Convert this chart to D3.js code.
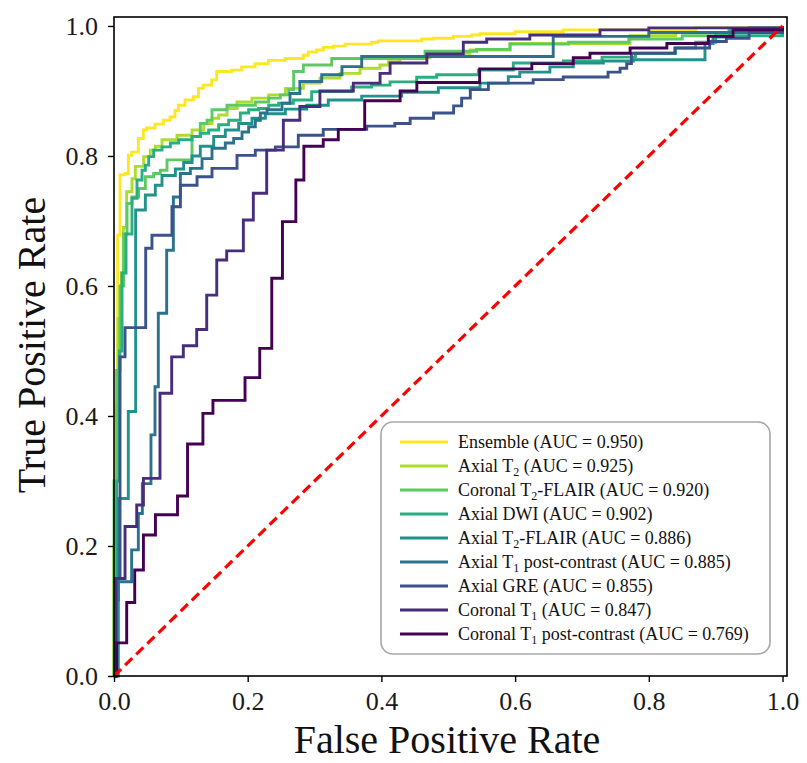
<!DOCTYPE html>
<html>
<head>
<meta charset="utf-8">
<script src="https://cdn.jsdelivr.net/npm/d3@7"></script>
<style>
  body { margin: 0; background: #fff; }
  svg { display: block; font-family: "Liberation Serif", "Times New Roman", serif; }
</style>
</head>
<body>
<svg id="chart"></svg>
<script>
// ROC points [fpr, tpr] (top of each vertical step)
var ensemble = [[0,0],[0,0.2],[0.003,0.47],[0.0055,0.678],[0.009,0.771],[0.0165,0.773],[0.0215,0.801],[0.0264,0.806],[0.0364,0.827],[0.0439,0.840],[0.0489,0.843],[0.0613,0.849],[0.0738,0.855],[0.0838,0.860],[0.0912,0.870],[0.0962,0.878],[0.1062,0.886],[0.1187,0.891],[0.1262,0.904],[0.1336,0.909],[0.1461,0.917],[0.1536,0.930],[0.1760,0.932],[0.1910,0.937],[0.2109,0.942],[0.2309,0.947],[0.2558,0.950],[0.2832,0.955],[0.2907,0.960],[0.3032,0.963],[0.3132,0.967],[0.3282,0.969],[0.3457,0.972],[0.3854,0.975],[0.3954,0.977],[0.4602,0.980],[0.4777,0.981],[0.5076,0.984],[0.5350,0.986],[0.5475,0.988],[0.6,0.991],[0.6722,0.994],[0.87,0.997],[1,1]];

var axialT2 = [[0,0],[0,0.2],[0.003,0.42],[0.006,0.55],[0.011,0.62],[0.0139,0.69],[0.0189,0.745],[0.0269,0.765],[0.0319,0.784],[0.0444,0.799],[0.0543,0.809],[0.0618,0.815],[0.0718,0.825],[0.0942,0.832],[0.1167,0.840],[0.1342,0.850],[0.1466,0.858],[0.1566,0.863],[0.1690,0.873],[0.1840,0.883],[0.2064,0.889],[0.2314,0.894],[0.2563,0.904],[0.2832,0.912],[0.3081,0.920],[0.3381,0.927],[0.3680,0.935],[0.3979,0.940],[0.4104,0.945],[0.4278,0.951],[0.4727,0.958],[0.5326,0.963],[0.5924,0.973],[0.772,0.985],[0.84,0.99],[0.92,0.996],[1,1]];

var coronalT2Flair = [[0,0],[0,0.3],[0.004,0.47],[0.009,0.6],[0.0145,0.68],[0.0195,0.727],[0.0269,0.737],[0.0369,0.750],[0.0469,0.768],[0.0593,0.773],[0.0693,0.778],[0.0793,0.794],[0.1167,0.830],[0.1291,0.850],[0.1391,0.855],[0.1466,0.871],[0.1690,0.878],[0.2114,0.883],[0.2314,0.889],[0.2488,0.894],[0.2613,0.902],[0.2687,0.930],[0.2832,0.940],[0.3257,0.950],[0.4653,0.961],[0.5425,0.964],[0.5924,0.972],[0.68,0.975],[0.77,0.98],[0.85,0.985],[0.92,0.993],[1,1]];

var axialDwi = [[0,0],[0.002,0.12],[0.004,0.3],[0.008,0.5],[0.012,0.62],[0.018,0.68],[0.0269,0.735],[0.0344,0.763],[0.0419,0.778],[0.0469,0.786],[0.0519,0.799],[0.0593,0.809],[0.0718,0.814],[0.0843,0.820],[0.0967,0.825],[0.1167,0.830],[0.1291,0.835],[0.1416,0.840],[0.1566,0.848],[0.1715,0.855],[0.1890,0.866],[0.2014,0.871],[0.2164,0.873],[0.2314,0.878],[0.2463,0.881],[0.2683,0.886],[0.2957,0.899],[0.3555,0.906],[0.3854,0.909],[0.4129,0.914],[0.4528,0.921],[0.4827,0.925],[0.5450,0.932],[0.5973,0.943],[0.6721,0.946],[0.73,0.952],[0.78,0.958],[0.84,0.966],[0.87,0.975],[0.9,0.985],[1,1]];

var axialT2Flair = [[0,0],[0.0065,0.273],[0.0214,0.407],[0.0324,0.717],[0.0469,0.74],[0.0618,0.755],[0.0718,0.77],[0.0918,0.78],[0.1042,0.79],[0.1167,0.80],[0.1291,0.815],[0.1491,0.83],[0.1665,0.84],[0.1865,0.85],[0.2064,0.858],[0.2264,0.865],[0.2563,0.872],[0.2883,0.878],[0.3205,0.886],[0.3705,0.892],[0.4303,0.898],[0.4852,0.905],[0.5475,0.912],[0.5898,0.922],[0.607,0.929],[0.652,0.937],[0.687,0.943],[0.732,0.946],[0.777,0.948],[0.884,0.973],[0.896,0.983],[0.921,0.991],[1,1]];

var axialT1Post = [[0,0],[0.003,0.117],[0.0065,0.145],[0.0264,0.194],[0.0364,0.250],[0.0424,0.296],[0.0553,0.371],[0.0613,0.445],[0.0663,0.558],[0.0788,0.655],[0.0888,0.737],[0.0993,0.773],[0.1142,0.781],[0.1317,0.796],[0.1466,0.812],[0.1665,0.820],[0.1790,0.827],[0.1915,0.837],[0.2014,0.845],[0.2114,0.855],[0.2189,0.866],[0.2289,0.871],[0.2513,0.881],[0.2633,0.896],[0.278,0.9145],[0.3107,0.925],[0.341,0.9375],[0.3705,0.953],[0.657,0.984],[0.80,0.99],[0.95,0.997],[1,1]];

var axialGre = [[0,0],[0.003,0.15],[0.009,0.491],[0.0165,0.536],[0.0474,0.658],[0.0568,0.678],[0.0867,0.722],[0.0993,0.755],[0.1242,0.768],[0.1466,0.781],[0.1840,0.801],[0.2114,0.809],[0.2413,0.814],[0.2757,0.832],[0.313,0.841],[0.378,0.846],[0.420,0.850],[0.443,0.858],[0.478,0.866],[0.508,0.877],[0.520,0.889],[0.533,0.902],[0.560,0.912],[0.627,0.9175],[0.672,0.9215],[0.739,0.929],[0.757,0.935],[0.767,0.942],[0.774,0.958],[0.839,0.966],[0.891,0.976],[0.916,0.981],[0.95,0.99],[1,1]];

var coronalT1 = [[0,0],[0.0025,0.150],[0.0165,0.230],[0.034,0.263],[0.044,0.304],[0.0688,0.435],[0.0863,0.491],[0.1037,0.508],[0.1237,0.533],[0.1387,0.586],[0.1537,0.640],[0.1686,0.654],[0.1935,0.7015],[0.2084,0.7426],[0.2284,0.809],[0.2533,0.855],[0.278,0.876],[0.308,0.900],[0.358,0.912],[0.398,0.927],[0.413,0.943],[0.468,0.957],[0.5225,0.975],[0.5575,0.980],[0.622,0.986],[0.727,0.994],[0.80,0.997],[1,1]];

var coronalT1Post = [[0,0],[0.004,0.051],[0.019,0.113],[0.031,0.163],[0.044,0.217],[0.062,0.248],[0.095,0.277],[0.110,0.357],[0.133,0.404],[0.148,0.424],[0.196,0.459],[0.218,0.504],[0.236,0.612],[0.252,0.699],[0.272,0.763],[0.284,0.815],[0.313,0.825],[0.3355,0.841],[0.375,0.885],[0.428,0.900],[0.453,0.913],[0.547,0.934],[0.625,0.942],[0.687,0.951],[0.712,0.958],[0.772,0.966],[0.827,0.973],[0.889,0.984],[0.926,0.994],[1,1]];

// "_2" marks a subscript
var seriesNames = ["Ensemble", "Axial T_2", "Coronal T_2-FLAIR", "Axial DWI", "Axial T_2-FLAIR",
  "Axial T_1 post-contrast", "Axial GRE", "Coronal T_1", "Coronal T_1 post-contrast"];
var aucValues = [0.950, 0.925, 0.920, 0.902, 0.886, 0.885, 0.855, 0.847, 0.769];
var series = [ensemble, axialT2, coronalT2Flair, axialDwi, axialT2Flair, axialT1Post, axialGre, coronalT1, coronalT1Post];

var xTicks = [0, 0.2, 0.4, 0.6, 0.8, 1.0];
var yTicks = [0, 0.2, 0.4, 0.6, 0.8, 1.0];
var chance = [[0, 0], [1, 1]];

var config = {
  w: 807,
  h: 763,
  left: 114,
  right: 787,
  top: 17,
  bottom: 676
};

var svg = d3.select("#chart")
  .attr("width", config.w)
  .attr("height", config.h);

var x = d3.scaleLinear().domain([0, 1.0067]).range([config.left, config.right]);
var y = d3.scaleLinear().domain([0, 1.0138]).range([config.bottom, config.top]);

// viridis, yellow first
var color = function(i) { return d3.interpolateViridis(1 - i / (series.length - 1)); };

// ROC curves are staircases: go right, then up
var step = d3.line()
  .curve(d3.curveStepAfter)
  .x(function(d) { return x(d[0]); })
  .y(function(d) { return y(d[1]); });

var plot = svg.append("g").attr("id", "plot");

plot.selectAll("path.roc")
  .data(series)
  .enter()
  .append("path")
    .attr("class", "roc")
    .attr("d", step)
    .attr("fill", "none")
    .attr("stroke", function(d, i) { return color(i); })
    .attr("stroke-width", 2.9)
    .attr("stroke-linejoin", "miter");

// chance line
plot.append("path")
  .attr("d", d3.line().x(function(d) { return x(d[0]); }).y(function(d) { return y(d[1]); })(chance))
  .attr("fill", "none")
  .attr("stroke", "#ff0000")
  .attr("stroke-width", 3.2)
  .attr("stroke-dasharray", "10,5.5");

// axes
var xAxis = svg.append("g")
  .attr("transform", "translate(0," + config.bottom + ")")
  .call(d3.axisBottom(x).tickValues(xTicks).tickFormat(d3.format(".1f")).tickSize(6).tickPadding(10));

var yAxis = svg.append("g")
  .attr("transform", "translate(" + config.left + ",0)")
  .call(d3.axisLeft(y).tickValues(yTicks).tickFormat(d3.format(".1f")).tickSize(6).tickPadding(10));

[xAxis, yAxis].forEach(function(a) {
  a.select(".domain").remove();
  a.selectAll("line").attr("stroke", "#000").attr("stroke-width", 1.4);
  a.selectAll("text")
    .attr("fill", "#1a1a1a")
    .style("font-family", "'Liberation Serif', 'Times New Roman', serif")
    .style("font-size", "26px");
});

// frame
svg.append("rect")
  .attr("x", config.left)
  .attr("y", config.top)
  .attr("width", config.right - config.left)
  .attr("height", config.bottom - config.top)
  .attr("fill", "none")
  .attr("stroke", "#000")
  .attr("stroke-width", 1.6);

// axis titles
svg.append("text")
  .attr("x", 447)
  .attr("y", 753)
  .attr("text-anchor", "middle")
  .style("font-size", "40px")
  .attr("fill", "#111")
  .text("False Positive Rate");

svg.append("text")
  .attr("transform", "translate(45,345) rotate(-90)")
  .attr("text-anchor", "middle")
  .style("font-size", "40px")
  .attr("fill", "#111")
  .text("True Positive Rate");

// legend
var legend = svg.append("g").attr("transform", "translate(381,422)");

legend.append("rect")
  .attr("width", 389)
  .attr("height", 232)
  .attr("rx", 12)
  .attr("fill", "#fff")
  .attr("fill-opacity", 0.85)
  .attr("stroke", "#a6a6a6")
  .attr("stroke-width", 1.6);

var rows = legend.selectAll("g.row")
  .data(seriesNames)
  .enter()
  .append("g")
    .attr("class", "row")
    .attr("transform", function(d, i) { return "translate(0," + (20 + i * 24) + ")"; });

rows.append("line")
  .attr("x1", 19)
  .attr("x2", 67)
  .attr("stroke", function(d, i) { return color(i); })
  .attr("stroke-width", 2.9);

rows.each(function(name, i) {
  var t = d3.select(this).append("text")
    .attr("x", 77)
    .attr("y", 6)
    .style("font-size", "18px")
    .attr("fill", "#111");
  var parts = name.split("_");
  var suffix = " (AUC = " + aucValues[i].toFixed(3) + ")";
  if (parts.length == 1) {
    t.text(name + suffix);
    return;
  }
  t.append("tspan").text(parts[0]);
  t.append("tspan")
    .attr("dy", 4)
    .style("font-size", "12px")
    .text(parts[1].charAt(0));
  t.append("tspan")
    .attr("dy", -4)
    .text(parts[1].slice(1) + suffix);
});
</script>
</body>
</html>
